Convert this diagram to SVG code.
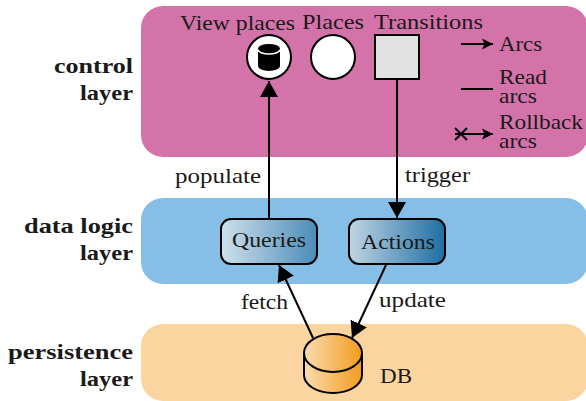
<svg xmlns="http://www.w3.org/2000/svg" width="586" height="401" viewBox="0 0 586 401">
<defs>
<linearGradient id="gq"><stop offset="0" stop-color="#cfe0ec"/><stop offset="1" stop-color="#4b8cb8"/></linearGradient>
<linearGradient id="ga"><stop offset="0" stop-color="#c0d5e3"/><stop offset="1" stop-color="#1f6ea3"/></linearGradient>
<linearGradient id="gd"><stop offset="0" stop-color="#fadcb0"/><stop offset="1" stop-color="#f39c1e"/></linearGradient>
<marker id="big" markerUnits="userSpaceOnUse" markerWidth="18" markerHeight="20" refX="16" refY="10" orient="auto"><path d="M0 1L16 10L0 19Z" fill="#000"/></marker>
<marker id="small" markerUnits="userSpaceOnUse" markerWidth="12" markerHeight="12" refX="11" refY="6" orient="auto"><path d="M0 0.500L11 6L0 11.500L2.500 6Z" fill="#000"/></marker>
</defs>
<style>
text{font-family:"Liberation Serif",serif;font-size:21.5px;fill:#1a1a1a}
.b{font-weight:bold;text-anchor:end}
.l{stroke:#000;stroke-width:2;fill:none}
.n{stroke:#000;stroke-width:2}
</style>
<rect id="control-layer" x="141" y="6" width="447" height="151" rx="22" fill="#d473aa"/>
<rect id="data-layer" x="141" y="198" width="447" height="86" rx="22" fill="#85bfe8"/>
<rect id="persistence-layer" x="141" y="324" width="447" height="77" rx="22" fill="#fad5a0"/>
<g id="layer-labels">
<text class="b"><tspan x="133" y="73" textLength="79" lengthAdjust="spacingAndGlyphs">control</tspan><tspan x="133" y="100" textLength="53" lengthAdjust="spacingAndGlyphs">layer</tspan></text>
<text class="b"><tspan x="133" y="233" textLength="109" lengthAdjust="spacingAndGlyphs">data logic</tspan><tspan x="133" y="260" textLength="53" lengthAdjust="spacingAndGlyphs">layer</tspan></text>
<text class="b"><tspan x="133" y="359" textLength="125" lengthAdjust="spacingAndGlyphs">persistence</tspan><tspan x="133" y="386" textLength="53" lengthAdjust="spacingAndGlyphs">layer</tspan></text>
</g>
<g id="connectors">
<path class="l" d="M269 218V81" marker-end="url(#big)"/>
<path class="l" d="M397 80V218" marker-end="url(#big)"/>
<path class="l" d="M313 338L279 265" marker-end="url(#big)"/>
<path class="l" d="M386 265L352 338" marker-end="url(#big)"/>
<text x="175" y="183" textLength="86" lengthAdjust="spacingAndGlyphs">populate</text>
<text x="405" y="182" textLength="65" lengthAdjust="spacingAndGlyphs">trigger</text>
<text x="241" y="309" textLength="47" lengthAdjust="spacingAndGlyphs">fetch</text>
<text x="379" y="307" textLength="67" lengthAdjust="spacingAndGlyphs">update</text>
</g>
<g id="view-places">
<circle class="n" cx="269" cy="57" r="22" fill="#fff"/>
<path d="M258 48.500A11 4.500 0 0 1 280 48.500V66A11 5 0 0 1 258 66Z" fill="#000"/>
<path d="M258 49.500A11 4.500 0 0 0 280 49.500" fill="none" stroke="#fff" stroke-width="1.500"/>
<text x="180" y="30" textLength="115" lengthAdjust="spacingAndGlyphs">View places</text>
</g>
<g id="places">
<circle class="n" cx="333" cy="57" r="22" fill="#fff"/>
<text x="302" y="29" textLength="62" lengthAdjust="spacingAndGlyphs">Places</text>
</g>
<g id="transitions">
<rect class="n" x="375" y="35" width="44" height="44" fill="#e2e2e2"/>
<text x="374" y="29" textLength="109" lengthAdjust="spacingAndGlyphs">Transitions</text>
</g>
<g id="legend">
<path class="l" d="M461 44H493" marker-end="url(#small)"/>
<text x="499" y="51" textLength="43" lengthAdjust="spacingAndGlyphs">Arcs</text>
<path class="l" d="M461 89H493"/>
<text><tspan x="499" y="84" textLength="48" lengthAdjust="spacingAndGlyphs">Read</tspan><tspan x="499" y="103" textLength="38" lengthAdjust="spacingAndGlyphs">arcs</tspan></text>
<path class="l" d="M455 134H493" marker-end="url(#small)"/>
<path class="l" d="M455 128L467 140M467 128L455 140"/>
<text><tspan x="499" y="129" textLength="84" lengthAdjust="spacingAndGlyphs">Rollback</tspan><tspan x="499" y="148" textLength="38" lengthAdjust="spacingAndGlyphs">arcs</tspan></text>
</g>
<g id="queries">
<rect class="n" x="221" y="219" width="96" height="45" rx="10" fill="url(#gq)"/>
<text x="232" y="247" textLength="74" lengthAdjust="spacingAndGlyphs">Queries</text>
</g>
<g id="actions">
<rect class="n" x="349" y="219" width="96" height="45" rx="10" fill="url(#ga)"/>
<text x="361" y="249" textLength="74" lengthAdjust="spacingAndGlyphs">Actions</text>
</g>
<g id="db">
<path class="n" d="M304 353A29 19 0 0 1 362 353V375A29 18 0 0 1 304 375Z" fill="url(#gd)"/>
<path class="l" d="M304 353A29 19 0 0 0 362 353"/>
<text x="380" y="383" textLength="32" lengthAdjust="spacingAndGlyphs">DB</text>
</g>
</svg>
